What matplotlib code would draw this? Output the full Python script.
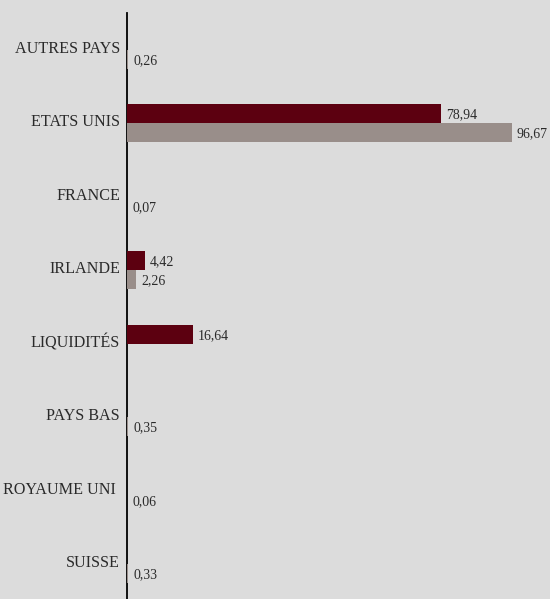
import numpy as np
import matplotlib.pyplot as plt
import matplotlib.transforms as mtransforms

categories = ['AUTRES PAYS', 'ETATS UNIS', 'FRANCE', 'IRLANDE', 'LIQUIDITÉS',
              'PAYS BAS', 'ROYAUME UNI ', 'SUISSE']
serie_a = [None, 78.94, None, 4.42, 16.64, None, None, None]
serie_b = [0.26, 96.67, 0.07, 2.26, None, 0.35, 0.06, 0.33]

col_a = '#5c0010'
col_b = '#998e8a'
bg = '#dcdcdc'
txt = '#2a2a2a'

plt.rcParams['font.family'] = ['Liberation Serif', 'DejaVu Serif']

fig = plt.figure(figsize=(5.5, 5.99), dpi=100, facecolor=bg)
ax = fig.add_axes([127 / 550, -2 / 599, 1 - 127 / 550, 588 / 599])
ax.set_facecolor(bg)

y = np.arange(len(categories))
h = 0.26

for vals, off, col in [(serie_a, -h / 2, col_a), (serie_b, h / 2, col_b)]:
    for yi, v in zip(y, vals):
        if v is None:
            continue
        ax.barh(yi + off, v, height=h, color=col, linewidth=0, zorder=3)
        ax.annotate('{:.2f}'.format(v).replace('.', ','), (v, yi + off),
                    xytext=(5, -1), textcoords='offset pixels',
                    ha='left', va='center', fontsize=10, color=txt)

ax.set_xlim(0, 423 / 3.98)
ax.set_ylim(len(categories) - 0.5, -0.5)
ax.set_yticks(y)
ax.set_yticklabels(categories, fontsize=11.6, color=txt)
ax.set_xticks([])
ax.tick_params(axis='y', length=0, pad=5)
shift = mtransforms.ScaledTranslation(0, 3 / 100, fig.dpi_scale_trans)
for lab in ax.get_yticklabels():
    lab.set_transform(lab.get_transform() + shift)
for s in ['top', 'right', 'bottom']:
    ax.spines[s].set_visible(False)
ax.spines['left'].set_linewidth(1.3)
ax.spines['left'].set_color('black')
ax.spines['left'].set_zorder(2)

fig.savefig('out.png', dpi=100, facecolor=bg)
